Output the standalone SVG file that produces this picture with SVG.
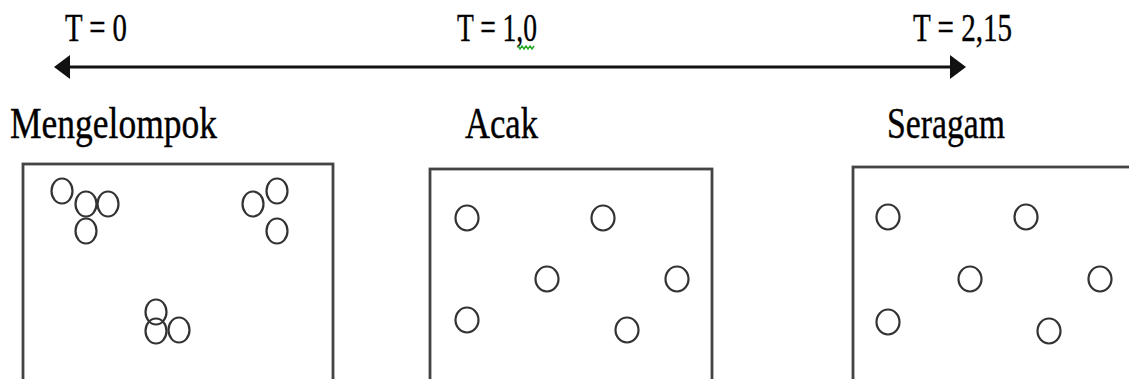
<svg xmlns="http://www.w3.org/2000/svg" width="1129" height="379" viewBox="0 0 1129 379">
<style>
.t{font-family:"Liberation Serif","Times New Roman",serif;fill:#000;stroke:#000;stroke-width:0.4;}
.tl{font-size:39px;}
.lb{font-size:44px;}
.box{fill:#fff;stroke:#444;stroke-width:2.8;}
.p{fill:none;stroke:#333;stroke-width:2.2;}
.ax{stroke:#111;stroke-width:3;fill:none;}
</style>
<defs>
<marker id="ah" viewBox="0 0 16 24" refX="2" refY="12" markerWidth="16" markerHeight="24" markerUnits="userSpaceOnUse" orient="auto-start-reverse">
<path d="M0,0 L16,12 L0,24 Z" fill="#111"/>
</marker>
</defs>
<rect width="1129" height="379" fill="#fff"/>
<g id="timeline">
<line class="ax" x1="68" y1="67" x2="952" y2="67" marker-start="url(#ah)" marker-end="url(#ah)"/>
</g>
<g id="t0"><text class="t tl" x="65" y="41" textLength="62" lengthAdjust="spacingAndGlyphs">T = 0</text></g>
<g id="t1"><text class="t tl" x="457" y="41" textLength="80" lengthAdjust="spacingAndGlyphs">T = 1,0</text>
<path d="M518,46 l2,3 l2,-3 l2,3 l2,-3 l2,3 l2,-3 l2,3 l2,-3" fill="none" stroke="#2a2" stroke-width="1.4"/></g>
<g id="t2"><text class="t tl" x="913" y="41" textLength="99" lengthAdjust="spacingAndGlyphs">T = 2,15</text></g>
<g id="mengelompok">
<text class="t lb" x="10" y="138" textLength="207" lengthAdjust="spacingAndGlyphs">Mengelompok</text>
<rect class="box" x="23" y="164" width="310" height="230"/>
<ellipse class="p" cx="62" cy="191" rx="10.5" ry="12.5"/>
<ellipse class="p" cx="86" cy="204" rx="10.5" ry="12.5"/>
<ellipse class="p" cx="108" cy="204" rx="10.5" ry="12.5"/>
<ellipse class="p" cx="86" cy="231" rx="10.5" ry="12.5"/>
<ellipse class="p" cx="253" cy="204" rx="10.5" ry="12.5"/>
<ellipse class="p" cx="277" cy="191" rx="10.5" ry="12.5"/>
<ellipse class="p" cx="277" cy="231" rx="10.5" ry="12.5"/>
<ellipse class="p" cx="156" cy="312" rx="10.5" ry="12.5"/>
<ellipse class="p" cx="156" cy="331" rx="10.5" ry="12.5"/>
<ellipse class="p" cx="179" cy="330" rx="10.5" ry="12.5"/>
</g>
<g id="acak">
<text class="t lb" x="465" y="138" textLength="73" lengthAdjust="spacingAndGlyphs">Acak</text>
<rect class="box" x="430" y="169" width="282" height="230"/>
<ellipse class="p" cx="467" cy="218" rx="11.5" ry="12.5"/>
<ellipse class="p" cx="603" cy="218" rx="11.5" ry="12.5"/>
<ellipse class="p" cx="547" cy="279" rx="11.5" ry="12.5"/>
<ellipse class="p" cx="677" cy="279" rx="11.5" ry="12.5"/>
<ellipse class="p" cx="467" cy="320" rx="11.5" ry="12.5"/>
<ellipse class="p" cx="627" cy="330" rx="11.5" ry="12.5"/>
</g>
<g id="seragam">
<text class="t lb" x="887" y="138" textLength="118" lengthAdjust="spacingAndGlyphs">Seragam</text>
<rect class="box" x="853" y="167" width="300" height="230"/>
<ellipse class="p" cx="888" cy="217" rx="11.5" ry="12.5"/>
<ellipse class="p" cx="1026" cy="217" rx="11.5" ry="12.5"/>
<ellipse class="p" cx="970" cy="279" rx="11.5" ry="12.5"/>
<ellipse class="p" cx="1100" cy="279" rx="11.5" ry="12.5"/>
<ellipse class="p" cx="888" cy="322" rx="11.5" ry="12.5"/>
<ellipse class="p" cx="1049" cy="331" rx="11.5" ry="12.5"/>
</g>
</svg>
